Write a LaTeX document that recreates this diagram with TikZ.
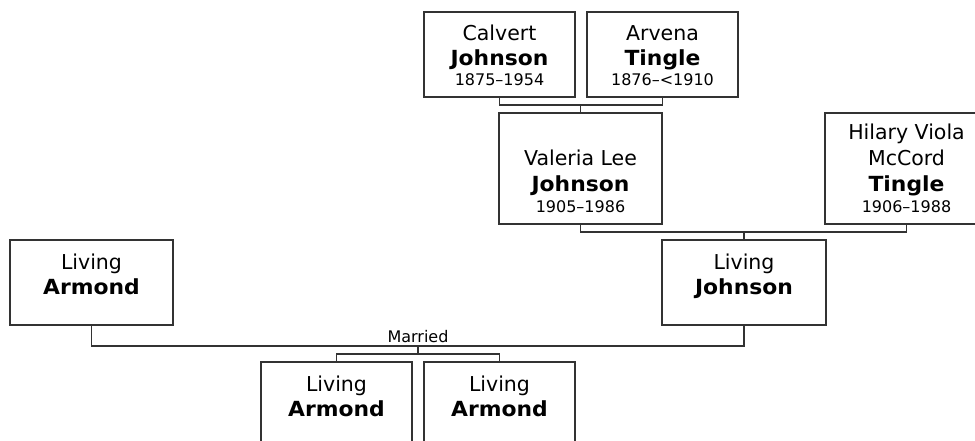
\documentclass[tikz,border=0pt]{standalone}
\usepackage{fontspec}
\setmainfont{DejaVu Sans}[BoldFeatures={FakeStretch=1.05}]
\usetikzlibrary{calc}
\definecolor{linec}{HTML}{333333}
\tikzset{
  person/.style={draw=linec, line width=1.1pt, inner sep=0pt, outer sep=0pt, anchor=north west, fill=white},
  nm/.style={anchor=base, inner sep=0pt, text=black, font=\fontsize{20.5}{24}\selectfont},
  nmb/.style={anchor=base, inner sep=0pt, text=black, font=\fontsize{20.8}{24}\selectfont\bfseries},
  dt/.style={anchor=base, inner sep=0pt, text=black, font=\fontsize{16}{19}\selectfont},
  conn/.style={draw=linec, line width=1.1pt},
}
\begin{document}
\begin{tikzpicture}[x=1pt,y=-1pt]
\useasboundingbox (0,0) rectangle (975,441);
\clip (0,0) rectangle (975,441);
% boxes
\node[person, minimum width=151pt, minimum height=85pt] (C) at (424,12) {};
\node[person, minimum width=151pt, minimum height=85pt] (A) at (587,12) {};
\node[person, minimum width=163pt, minimum height=111pt] (V) at (499,113) {};
\node[person, minimum width=163pt, minimum height=111pt] (H) at (825,113) {};
\node[person, minimum width=163pt, minimum height=85pt] (LA) at (10,240) {};
\node[person, minimum width=164pt, minimum height=85pt] (LJ) at (662,240) {};
\node[person, minimum width=151pt, minimum height=100pt] (K1) at (261,362) {};
\node[person, minimum width=151pt, minimum height=100pt] (K2) at (424,362) {};
% connectors
\coordinate (jCA) at (V.north |- 0,105);
\draw[conn] (C.south) |- (jCA) -| (A.south);
\draw[conn] (jCA) -- (V.north);
\coordinate (jVH) at (LJ.north |- 0,232);
\draw[conn] (V.south) |- (jVH) -| (H.south);
\draw[conn] (jVH) -- (LJ.north);
\coordinate (jM) at (418,346);
\draw[conn] (LA.south) |- (jM) -| (LJ.south);
\coordinate (jK) at (418,354);
\draw[conn] (jM) -- (jK);
\draw[conn] (K1.north) |- (jK) -| (K2.north);
\node[dt] (married) at (418,342) {Married};
% texts
\node[nm] (c1) at ([yshift=-28.5pt]C.north) {Calvert};
\node[nmb] (c2) at ([yshift=-54pt]C.north) {Johnson};
\node[dt] (c3) at ([yshift=-74pt]C.north) {1875–1954};
\node[nm] (a1) at ([yshift=-28.5pt]A.north) {Arvena};
\node[nmb] (a2) at ([yshift=-54pt]A.north) {Tingle};
\node[dt] (a3) at ([yshift=-74pt]A.north) {1876–<1910};
\node[nm] (v1) at ([yshift=-53pt]V.north) {Valeria Lee};
\node[nmb] (v2) at ([yshift=-79pt]V.north) {Johnson};
\node[dt] (v3) at ([yshift=-99.5pt]V.north) {1905–1986};
\node[nm] (h1) at ([yshift=-27pt]H.north) {Hilary Viola};
\node[nm] (h2) at ([yshift=-53pt]H.north) {McCord};
\node[nmb] (h3) at ([yshift=-79pt]H.north) {Tingle};
\node[dt] (h4) at ([yshift=-99.5pt]H.north) {1906–1988};
\node[nm] (la1) at ([yshift=-29pt]LA.north) {Living};
\node[nmb] (la2) at ([yshift=-54pt]LA.north) {Armond};
\node[nm] (lj1) at ([yshift=-29pt]LJ.north) {Living};
\node[nmb] (lj2) at ([yshift=-54pt]LJ.north) {Johnson};
\node[nm] (k11) at ([yshift=-29pt]K1.north) {Living};
\node[nmb] (k12) at ([yshift=-54pt]K1.north) {Armond};
\node[nm] (k21) at ([yshift=-29pt]K2.north) {Living};
\node[nmb] (k22) at ([yshift=-54pt]K2.north) {Armond};
\end{tikzpicture}
\end{document}
